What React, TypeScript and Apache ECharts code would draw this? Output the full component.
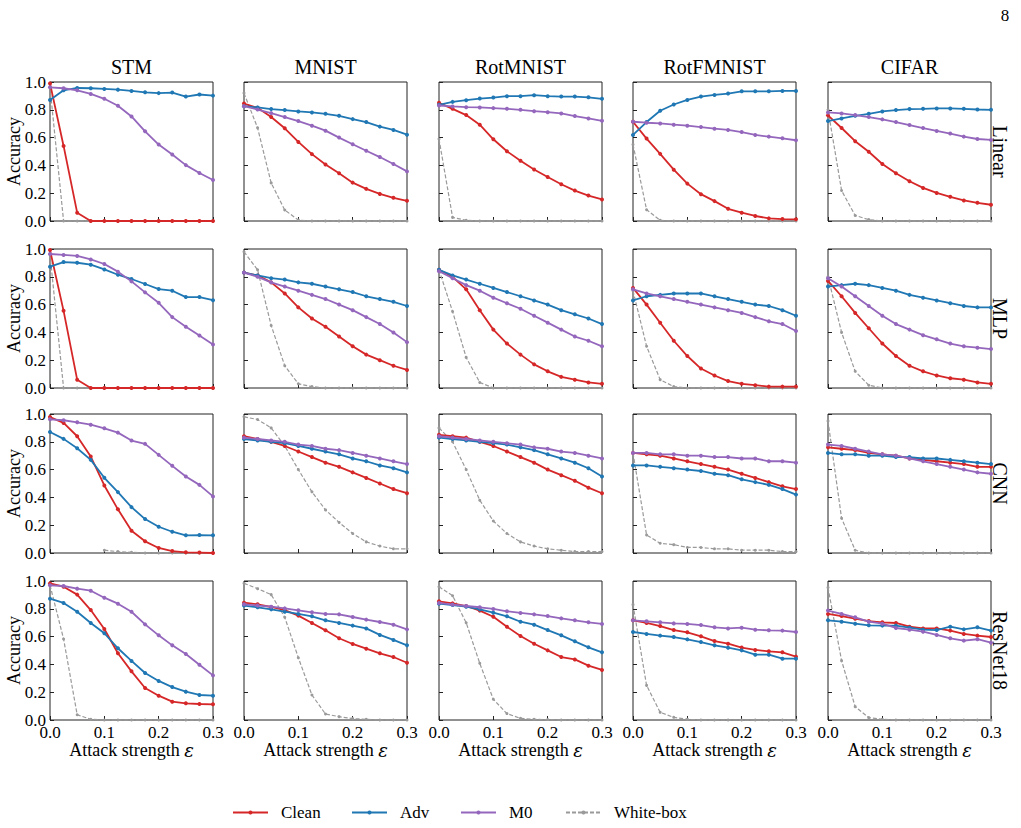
import { useEffect, useRef } from "react";
import * as echarts from "echarts";

// Attack strengths evaluated for every panel
const EPS = [0, 0.025, 0.05, 0.075, 0.1, 0.125, 0.15, 0.175, 0.2, 0.225, 0.25, 0.275, 0.3];
const DATASETS = ["STM", "MNIST", "RotMNIST", "RotFMNIST", "CIFAR"];
const MODELS = ["Linear", "MLP", "CNN", "ResNet18"];
const METHODS = ["Clean", "Adv", "M0", "White-box"];
const COLORS = ["#d62728", "#1f77b4", "#9467bd", "#9a9a9a"];

const Z = [0, 0, 0, 0, 0, 0, 0, 0];

// ---- Linear ----
const linearStm = {
  clean: [0.99, 0.54, 0.06, 0, 0, 0, 0, 0, 0, 0, 0, 0, 0],
  adv: [0.87, 0.94, 0.957, 0.955, 0.95, 0.945, 0.936, 0.926, 0.92, 0.924, 0.895, 0.91, 0.902],
  m0: [0.962, 0.955, 0.94, 0.914, 0.879, 0.829, 0.752, 0.645, 0.55, 0.479, 0.402, 0.345, 0.295],
  white: [0.96, 0, 0, 0, 0, ...Z],
};
const linearMnist = {
  clean: [0.845, 0.814, 0.748, 0.667, 0.569, 0.481, 0.407, 0.343, 0.276, 0.231, 0.195, 0.167, 0.145],
  adv: [0.826, 0.817, 0.805, 0.798, 0.788, 0.781, 0.771, 0.757, 0.733, 0.712, 0.679, 0.655, 0.621],
  m0: [0.826, 0.802, 0.776, 0.748, 0.719, 0.686, 0.65, 0.6, 0.552, 0.505, 0.46, 0.41, 0.357],
  white: [0.92, 0.67, 0.274, 0.079, 0.007, ...Z],
};
const linearRotMnist = {
  clean: [0.85, 0.807, 0.762, 0.693, 0.588, 0.502, 0.433, 0.371, 0.317, 0.264, 0.219, 0.183, 0.155],
  adv: [0.836, 0.857, 0.869, 0.881, 0.888, 0.898, 0.898, 0.905, 0.898, 0.895, 0.895, 0.89, 0.879],
  m0: [0.831, 0.824, 0.819, 0.817, 0.812, 0.807, 0.8, 0.79, 0.783, 0.774, 0.755, 0.738, 0.721],
  white: [0.59, 0.026, 0.005, 0, 0, ...Z],
};
const linearRotFmnist = {
  clean: [0.714, 0.593, 0.483, 0.369, 0.269, 0.193, 0.143, 0.088, 0.06, 0.036, 0.019, 0.014, 0.012],
  adv: [0.619, 0.712, 0.793, 0.838, 0.871, 0.895, 0.907, 0.917, 0.933, 0.933, 0.933, 0.936, 0.936],
  m0: [0.714, 0.707, 0.702, 0.693, 0.686, 0.676, 0.664, 0.655, 0.64, 0.619, 0.607, 0.595, 0.581],
  white: [0.55, 0.081, 0.005, 0, 0, ...Z],
};
const linearCifar = {
  clean: [0.76, 0.669, 0.574, 0.498, 0.41, 0.343, 0.286, 0.238, 0.202, 0.174, 0.148, 0.131, 0.117],
  adv: [0.719, 0.738, 0.757, 0.771, 0.788, 0.798, 0.805, 0.807, 0.81, 0.81, 0.807, 0.802, 0.8],
  m0: [0.781, 0.774, 0.762, 0.748, 0.731, 0.712, 0.69, 0.669, 0.648, 0.629, 0.607, 0.59, 0.583],
  white: [0.8, 0.219, 0.04, 0.01, 0, ...Z],
};

// ---- MLP ----
const mlpStm = {
  clean: [0.993, 0.555, 0.06, 0, 0, 0, 0, 0, 0, 0, 0, 0, 0],
  adv: [0.873, 0.906, 0.901, 0.887, 0.853, 0.815, 0.784, 0.748, 0.712, 0.7, 0.654, 0.654, 0.632],
  m0: [0.964, 0.957, 0.95, 0.925, 0.892, 0.837, 0.767, 0.688, 0.613, 0.51, 0.44, 0.377, 0.313],
  white: [0.96, 0, 0, 0, 0, ...Z],
};
const mlpMnist = {
  clean: [0.83, 0.81, 0.76, 0.68, 0.58, 0.5, 0.44, 0.37, 0.3, 0.24, 0.2, 0.16, 0.13],
  adv: [0.83, 0.81, 0.79, 0.78, 0.76, 0.75, 0.73, 0.71, 0.69, 0.66, 0.64, 0.62, 0.59],
  m0: [0.83, 0.8, 0.76, 0.73, 0.7, 0.67, 0.64, 0.6, 0.56, 0.51, 0.46, 0.4, 0.33],
  white: [0.98, 0.85, 0.45, 0.16, 0.03, 0.01, 0, 0, 0, 0, 0, 0, 0],
};
const mlpRotMnist = {
  clean: [0.85, 0.8, 0.71, 0.56, 0.42, 0.32, 0.24, 0.17, 0.12, 0.08, 0.06, 0.04, 0.03],
  adv: [0.85, 0.81, 0.78, 0.75, 0.72, 0.69, 0.66, 0.63, 0.6, 0.56, 0.53, 0.5, 0.46],
  m0: [0.84, 0.79, 0.74, 0.7, 0.65, 0.61, 0.57, 0.52, 0.47, 0.42, 0.37, 0.34, 0.3],
  white: [0.85, 0.55, 0.22, 0.04, 0, ...Z],
};
const mlpRotFmnist = {
  clean: [0.72, 0.6, 0.47, 0.34, 0.23, 0.14, 0.09, 0.05, 0.03, 0.02, 0.01, 0.01, 0.01],
  adv: [0.63, 0.66, 0.67, 0.68, 0.68, 0.68, 0.66, 0.64, 0.62, 0.6, 0.59, 0.56, 0.52],
  m0: [0.71, 0.68, 0.66, 0.64, 0.62, 0.6, 0.58, 0.56, 0.54, 0.51, 0.48, 0.46, 0.41],
  white: [0.7, 0.3, 0.06, 0.01, 0, ...Z],
};
const mlpCifar = {
  clean: [0.77, 0.66, 0.54, 0.43, 0.32, 0.23, 0.16, 0.12, 0.09, 0.07, 0.06, 0.04, 0.03],
  adv: [0.73, 0.74, 0.75, 0.74, 0.72, 0.7, 0.67, 0.65, 0.63, 0.61, 0.59, 0.58, 0.58],
  m0: [0.79, 0.73, 0.66, 0.59, 0.52, 0.46, 0.42, 0.38, 0.35, 0.32, 0.3, 0.29, 0.28],
  white: [0.8, 0.4, 0.12, 0.02, 0, ...Z],
};

// ---- CNN ----
const cnnStm = {
  clean: [0.978, 0.936, 0.84, 0.694, 0.486, 0.314, 0.16, 0.084, 0.036, 0.014, 0.005, 0.003, 0],
  adv: [0.871, 0.821, 0.754, 0.67, 0.541, 0.438, 0.33, 0.244, 0.189, 0.153, 0.127, 0.129, 0.127],
  m0: [0.962, 0.955, 0.94, 0.923, 0.897, 0.866, 0.809, 0.785, 0.706, 0.627, 0.55, 0.49, 0.407],
  white: [null, null, null, null, 0.02, 0.01, 0.005, 0, 0, 0, 0, 0, 0],
};
const cnnMnist = {
  clean: [0.84, 0.82, 0.8, 0.77, 0.73, 0.69, 0.65, 0.62, 0.58, 0.54, 0.5, 0.46, 0.43],
  adv: [0.82, 0.81, 0.8, 0.79, 0.77, 0.75, 0.73, 0.71, 0.68, 0.66, 0.63, 0.61, 0.58],
  m0: [0.83, 0.82, 0.81, 0.8, 0.78, 0.77, 0.75, 0.74, 0.72, 0.7, 0.68, 0.66, 0.64],
  white: [0.98, 0.96, 0.9, 0.77, 0.6, 0.44, 0.31, 0.22, 0.14, 0.08, 0.05, 0.03, 0.03],
};
const cnnRotMnist = {
  clean: [0.85, 0.84, 0.83, 0.8, 0.77, 0.73, 0.69, 0.65, 0.6, 0.56, 0.52, 0.47, 0.43],
  adv: [0.83, 0.82, 0.81, 0.8, 0.79, 0.78, 0.76, 0.74, 0.71, 0.68, 0.65, 0.61, 0.55],
  m0: [0.84, 0.83, 0.82, 0.81, 0.8, 0.79, 0.78, 0.76, 0.75, 0.73, 0.72, 0.7, 0.68],
  white: [0.9, 0.8, 0.6, 0.38, 0.23, 0.14, 0.08, 0.05, 0.03, 0.02, 0.01, 0.01, 0.01],
};
const cnnRotFmnist = {
  clean: [0.72, 0.71, 0.7, 0.68, 0.66, 0.64, 0.62, 0.6, 0.57, 0.54, 0.51, 0.48, 0.46],
  adv: [0.63, 0.63, 0.62, 0.61, 0.6, 0.59, 0.57, 0.56, 0.53, 0.51, 0.49, 0.46, 0.42],
  m0: [0.72, 0.72, 0.71, 0.71, 0.7, 0.7, 0.69, 0.69, 0.68, 0.68, 0.66, 0.66, 0.65],
  white: [0.72, 0.13, 0.07, 0.06, 0.04, 0.04, 0.03, 0.03, 0.02, 0.02, 0.02, 0.01, 0.01],
};
const cnnCifar = {
  clean: [0.76, 0.75, 0.74, 0.72, 0.71, 0.7, 0.68, 0.67, 0.66, 0.65, 0.64, 0.62, 0.62],
  adv: [0.72, 0.71, 0.71, 0.7, 0.7, 0.69, 0.69, 0.68, 0.68, 0.67, 0.66, 0.65, 0.64],
  m0: [0.78, 0.77, 0.75, 0.73, 0.71, 0.7, 0.68, 0.66, 0.64, 0.62, 0.6, 0.58, 0.57],
  white: [0.95, 0.25, 0.02, 0, 0, ...Z],
};

// ---- ResNet18 ----
const resStm = {
  clean: [0.983, 0.959, 0.902, 0.791, 0.655, 0.48, 0.35, 0.23, 0.175, 0.132, 0.12, 0.115, 0.113],
  adv: [0.873, 0.842, 0.779, 0.698, 0.624, 0.516, 0.425, 0.338, 0.281, 0.237, 0.204, 0.18, 0.175],
  m0: [0.969, 0.964, 0.945, 0.93, 0.88, 0.837, 0.779, 0.688, 0.609, 0.537, 0.475, 0.398, 0.321],
  white: [0.97, 0.583, 0.038, 0.005, 0, ...Z],
};
const resMnist = {
  clean: [0.844, 0.832, 0.813, 0.791, 0.751, 0.698, 0.645, 0.588, 0.547, 0.513, 0.48, 0.453, 0.412],
  adv: [0.823, 0.811, 0.796, 0.779, 0.763, 0.746, 0.717, 0.698, 0.679, 0.659, 0.612, 0.576, 0.537],
  m0: [0.832, 0.823, 0.815, 0.803, 0.789, 0.775, 0.763, 0.76, 0.741, 0.722, 0.705, 0.686, 0.652],
  white: [0.983, 0.945, 0.902, 0.739, 0.448, 0.18, 0.043, 0.024, 0.01, 0.005, 0, 0, 0],
};
const resRotMnist = {
  clean: [0.854, 0.839, 0.82, 0.787, 0.743, 0.671, 0.604, 0.549, 0.501, 0.453, 0.436, 0.391, 0.36],
  adv: [0.837, 0.827, 0.815, 0.796, 0.772, 0.746, 0.707, 0.686, 0.647, 0.609, 0.566, 0.523, 0.487],
  m0: [0.842, 0.83, 0.82, 0.811, 0.799, 0.782, 0.77, 0.76, 0.748, 0.731, 0.717, 0.703, 0.691],
  white: [0.959, 0.894, 0.7, 0.408, 0.149, 0.046, 0.012, 0.005, 0.003, 0, 0, 0, 0],
};
const resRotFmnist = {
  clean: [0.717, 0.698, 0.676, 0.647, 0.631, 0.602, 0.568, 0.549, 0.521, 0.504, 0.494, 0.487, 0.456],
  adv: [0.633, 0.619, 0.607, 0.597, 0.58, 0.561, 0.537, 0.52, 0.501, 0.47, 0.47, 0.441, 0.441],
  m0: [0.717, 0.71, 0.703, 0.695, 0.691, 0.683, 0.667, 0.659, 0.664, 0.65, 0.645, 0.643, 0.633],
  white: [0.83, 0.249, 0.055, 0.019, 0.005, ...Z],
};
const resCifar = {
  clean: [0.763, 0.748, 0.729, 0.712, 0.703, 0.698, 0.671, 0.659, 0.659, 0.643, 0.619, 0.607, 0.597],
  adv: [0.717, 0.707, 0.693, 0.681, 0.679, 0.679, 0.664, 0.65, 0.647, 0.671, 0.652, 0.667, 0.643],
  m0: [0.787, 0.763, 0.739, 0.707, 0.693, 0.662, 0.65, 0.635, 0.612, 0.588, 0.571, 0.581, 0.556],
  white: [0.953, 0.427, 0.096, 0.017, 0.005, ...Z],
};

const PANELS = [
  [linearStm, linearMnist, linearRotMnist, linearRotFmnist, linearCifar],
  [mlpStm, mlpMnist, mlpRotMnist, mlpRotFmnist, mlpCifar],
  [cnnStm, cnnMnist, cnnRotMnist, cnnRotFmnist, cnnCifar],
  [resStm, resMnist, resRotMnist, resRotFmnist, resCifar],
];

// Layout of the 4 x 5 panel grid (pixels)
const COL_LEFT = [50, 244, 439, 633, 828];
const ROW_TOP = [82, 249, 414, 581];
const PANEL_W = 163;
const PANEL_H = 139;
const FONT = "'Liberation Serif', 'Times New Roman', serif";
const AXIS_COLOR = "#222";

function buildOption() {
  const grid: any[] = [];
  const xAxis: any[] = [];
  const yAxis: any[] = [];
  const series: any[] = [];
  const graphic: any[] = [];

  MODELS.forEach((model, r) => {
    DATASETS.forEach((ds, c) => {
      const idx = grid.length;
      grid.push({
        left: COL_LEFT[c],
        top: ROW_TOP[r],
        width: PANEL_W,
        height: PANEL_H,
        show: true,
        borderColor: AXIS_COLOR,
        borderWidth: 1,
        backgroundColor: "transparent",
      });
      xAxis.push({
        type: "value",
        gridIndex: idx,
        min: 0,
        max: 0.3,
        interval: 0.1,
        axisLine: { show: false },
        axisTick: { show: true, inside: true, length: 4, lineStyle: { color: AXIS_COLOR } },
        splitLine: { show: false },
        axisLabel: {
          show: r === MODELS.length - 1,
          margin: 4,
          fontFamily: FONT,
          fontSize: 17,
          color: "#000",
          formatter: (v: number) => v.toFixed(1),
        },
      });
      yAxis.push({
        type: "value",
        gridIndex: idx,
        min: 0,
        max: 1,
        interval: 0.2,
        axisLine: { show: false },
        axisTick: { show: true, inside: true, length: 4, lineStyle: { color: AXIS_COLOR } },
        splitLine: { show: false },
        axisLabel: {
          show: c === 0,
          margin: 4,
          fontFamily: FONT,
          fontSize: 17,
          color: "#000",
          formatter: (v: number) => v.toFixed(1),
        },
      });

      const panel: any = PANELS[r][c];
      const lists = [panel.clean, panel.adv, panel.m0, panel.white];
      // white-box drawn first so the others sit on top
      [3, 0, 1, 2].forEach((m) => {
        const isWhite = m === 3;
        series.push({
          type: "line",
          name: METHODS[m],
          xAxisIndex: idx,
          yAxisIndex: idx,
          data: EPS.map((e, i) => [e, lists[m][i] === null ? "-" : lists[m][i]]),
          symbol: "circle",
          symbolSize: isWhite ? 3 : 4,
          showSymbol: true,
          clip: false,
          z: isWhite ? 2 : 3 + m,
          lineStyle: {
            color: COLORS[m],
            width: isWhite ? 1.2 : 1.8,
            type: isWhite ? [4, 2] : "solid",
          },
          itemStyle: { color: COLORS[m], borderWidth: 0 },
          emphasis: { disabled: true },
        });
      });

      if (r === 0) {
        graphic.push({
          type: "text",
          x: COL_LEFT[c] + PANEL_W / 2,
          y: 67,
          style: { text: ds, fontFamily: FONT, fontSize: 20, fill: "#000", align: "center", verticalAlign: "middle" },
        });
      }
      if (r === MODELS.length - 1) {
        graphic.push({
          type: "text",
          x: COL_LEFT[c] + PANEL_W / 2,
          y: 750,
          style: {
            text: "Attack strength {e|ε}",
            fontFamily: FONT,
            fontSize: 18,
            fill: "#000",
            align: "center",
            verticalAlign: "middle",
            rich: { e: { fontFamily: "'DejaVu Serif', serif", fontStyle: "italic", fontSize: 18, fill: "#000" } },
          },
        });
      }
    });

    const cy = ROW_TOP[r] + PANEL_H / 2;
    graphic.push({
      type: "text",
      x: 1000,
      y: cy,
      rotation: -Math.PI / 2,
      style: { text: model, fontFamily: FONT, fontSize: 20, fill: "#000", align: "center", verticalAlign: "middle" },
    });
    graphic.push({
      type: "text",
      x: 14,
      y: cy,
      rotation: Math.PI / 2,
      style: { text: "Accuracy", fontFamily: FONT, fontSize: 18, fill: "#000", align: "center", verticalAlign: "middle" },
    });
  });

  graphic.push({
    type: "text",
    x: 1005,
    y: 15,
    style: { text: "8", fontFamily: FONT, fontSize: 17, fill: "#000", align: "center", verticalAlign: "middle" },
  });

  const legendLeft = [232, 351, 460, 565];
  const legend = METHODS.map((name, i) => ({
    data: [name],
    left: legendLeft[i],
    top: 804,
    padding: 0,
    itemWidth: 35,
    itemHeight: 5,
    selectedMode: false,
    textStyle: { fontFamily: FONT, fontSize: 17, color: "#000", padding: [0, 0, 0, 8] },
  }));

  return {
    animation: false,
    backgroundColor: "#fff",
    grid,
    xAxis,
    yAxis,
    series,
    legend,
    graphic,
  };
}

export default function App() {
  const ref = useRef<HTMLDivElement>(null);
  useEffect(() => {
    if (!ref.current) return;
    const chart = echarts.init(ref.current, undefined, { renderer: "svg" });
    chart.setOption(buildOption() as any);
    return () => chart.dispose();
  }, []);
  return (
    <div
      ref={ref}
      style={{ position: "fixed", left: 0, top: 0, width: 1021, height: 828, background: "#fff" }}
    />
  );
}
